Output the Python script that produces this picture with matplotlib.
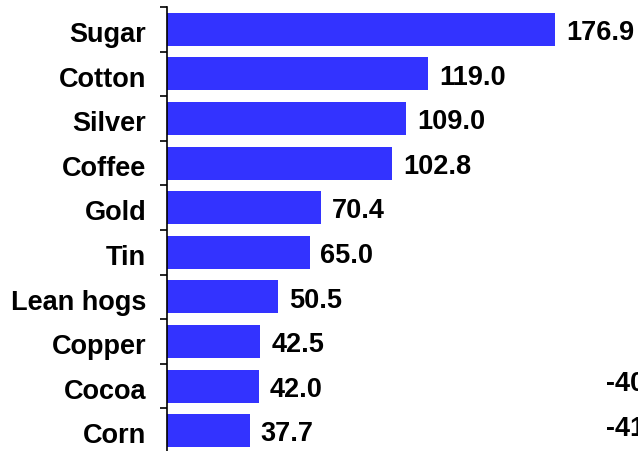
import matplotlib
matplotlib.use('Agg')
import matplotlib.pyplot as plt
import numpy as np

# commodities, % change
commodities = ['Sugar', 'Cotton', 'Silver', 'Coffee', 'Gold', 'Tin',
               'Lean hogs', 'Copper', 'Cocoa', 'Corn']
changes = [176.9, 119.0, 109.0, 102.8, 70.4, 65.0, 50.5, 42.5, 42.0, 37.7]

# labels from the neighbouring panel, cut off at the right edge
side_labels = ['-40', '-41']

plt.rcParams['font.family'] = ['Liberation Sans', 'DejaVu Sans']
plt.rcParams['font.weight'] = 'bold'

fig = plt.figure(figsize=(6.38, 4.52), dpi=100)
ax = fig.add_axes([167 / 638, -2 / 452, 471 / 638, 446 / 452])

n = len(commodities)
y = np.arange(n)
ax.barh(y, changes, height=0.74, color='#3333ff', edgecolor='none')

ax.set_xlim(0, 214.8)
ax.set_ylim(n - 0.5, -0.5)

for yi, v in zip(y, changes):
    ax.text(v + 5, yi + 0.06, f'{v:.1f}', va='center', ha='left',
            fontsize=19.5, fontweight='bold', color='black')

# ticks between categories, labels at centres
ax.set_yticks(np.arange(n + 1) - 0.5)
ax.set_yticklabels([])
ax.set_yticks(y + 0.04, minor=True)
ax.set_yticklabels(commodities, minor=True, fontsize=19.5, fontweight='bold')
ax.tick_params(axis='y', which='major', length=5, width=1.2, direction='out')
ax.tick_params(axis='y', which='minor', length=0, pad=15)
ax.set_xticks([])

for s in ['top', 'right', 'bottom']:
    ax.spines[s].set_visible(False)
ax.spines['left'].set_linewidth(1.2)

for i, t in enumerate(side_labels):
    ax.text(606 / 638, 1 - (384 + i * 44.6) / 452, t, transform=fig.transFigure,
            va='center', ha='left', fontsize=19.5, fontweight='bold')

fig.savefig('out.png', dpi=100)
